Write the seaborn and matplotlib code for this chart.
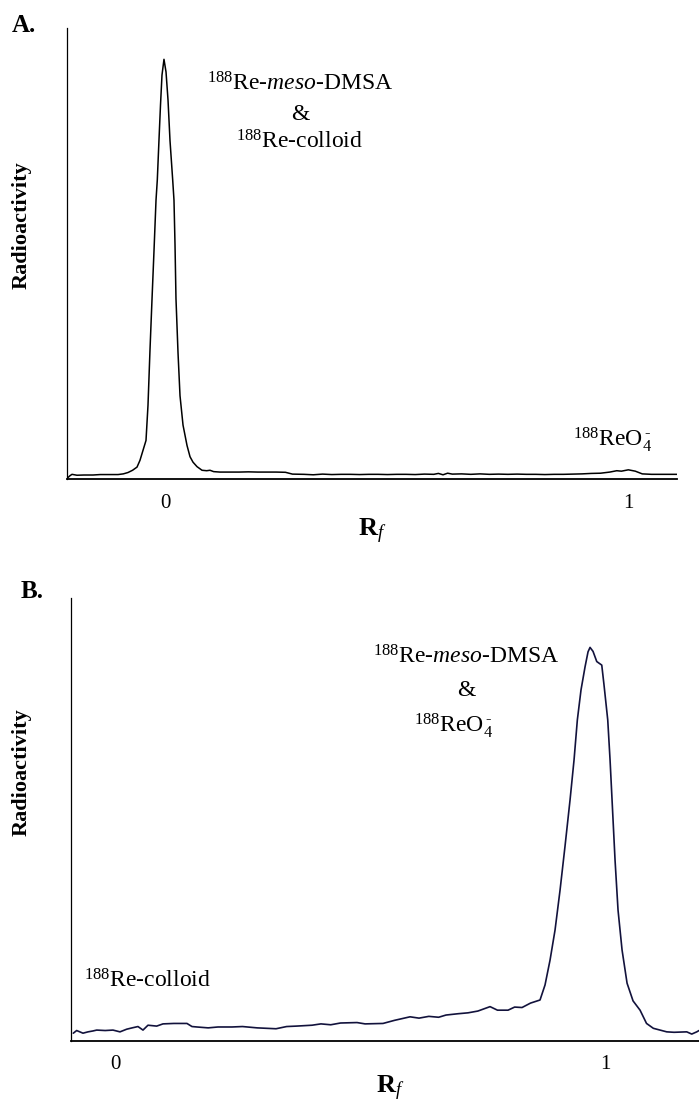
import matplotlib
matplotlib.use("Agg")
import matplotlib.pyplot as plt
import seaborn as sns
import pandas as pd

# ---------------- data ----------------
rf_a = [-0.2115, -0.205, -0.2007, -0.19, -0.175, -0.1554, -0.14, -0.12, -0.1014, -0.09,
        -0.0799, -0.07, -0.0604, -0.054, -0.0475, -0.041, -0.0367, -0.0324, -0.0281, -0.0237,
        -0.0194, -0.0166, -0.0130, -0.0097, -0.0065, -0.0022, 0.0022, 0.0065, 0.0108, 0.0166,
        0.0194, 0.0216, 0.0237, 0.0281, 0.0324, 0.0389, 0.0475, 0.0540, 0.0604, 0.0691,
        0.0799, 0.09, 0.0971, 0.105, 0.1187, 0.13, 0.1403, 0.16, 0.18, 0.20,
        0.22, 0.24, 0.26, 0.275, 0.30, 0.32, 0.34, 0.36, 0.38, 0.40,
        0.42, 0.44, 0.46, 0.48, 0.50, 0.52, 0.54, 0.56, 0.58, 0.59,
        0.60, 0.61, 0.62, 0.64, 0.66, 0.68, 0.70, 0.72, 0.74, 0.76,
        0.78, 0.80, 0.82, 0.84, 0.86, 0.88, 0.90, 0.92, 0.94, 0.96,
        0.975, 0.985, 1.00, 1.015, 1.03, 1.05, 1.07, 1.09, 1.105]
ht_a = [0.2, 0.8, 1.1, 0.9, 0.95, 0.95, 1.05, 1.05, 1.05, 1.2,
        1.5, 2.0, 2.7, 4.2, 6.4, 8.6, 16.4, 28.6, 39.7, 50.7,
        61.8, 66.3, 75.1, 82.9, 89.5, 93.0, 90.2, 84.0, 75.0, 66.3,
        61.8, 52.0, 40.0, 28.0, 18.5, 12.0, 7.5, 5.0, 3.8, 2.8,
        2.0, 1.9, 2.0, 1.7, 1.6, 1.6, 1.6, 1.6, 1.65, 1.6,
        1.6, 1.6, 1.55, 1.15, 1.1, 1.0, 1.15, 1.05, 1.1, 1.1,
        1.05, 1.1, 1.1, 1.05, 1.1, 1.1, 1.05, 1.15, 1.1, 1.3,
        1.0, 1.35, 1.15, 1.2, 1.1, 1.2, 1.1, 1.15, 1.1, 1.15,
        1.1, 1.1, 1.05, 1.1, 1.1, 1.15, 1.2, 1.3, 1.35, 1.6,
        1.9, 1.8, 2.1, 1.8, 1.2, 1.1, 1.1, 1.1, 1.1]

rf_b = [-0.0850, -0.0781, -0.0653, -0.055, -0.045, -0.0373, -0.02, -0.0041, 0.0102, 0.0239,
        0.035, 0.0469, 0.0571, 0.0673, 0.0850, 0.0979, 0.12, 0.1468, 0.1570, 0.1672,
        0.19, 0.21, 0.2386, 0.26, 0.29, 0.3284, 0.35, 0.37, 0.4018, 0.42,
        0.44, 0.46, 0.4936, 0.51, 0.5466, 0.57, 0.6017, 0.62, 0.64, 0.66,
        0.6751, 0.70, 0.7200, 0.74, 0.7649, 0.78, 0.8016, 0.815, 0.8301, 0.8474,
        0.8668, 0.8770, 0.8872, 0.8974, 0.9076, 0.9178, 0.9280, 0.9362, 0.9429, 0.9504,
        0.9586, 0.9647, 0.9688, 0.9749, 0.9825, 0.9927, 0.9973, 1.0049, 1.0096, 1.0137,
        1.0198, 1.0259, 1.0341, 1.0443, 1.0565, 1.0708, 1.0840, 1.0979, 1.1252, 1.14,
        1.1660, 1.1762, 1.1864, 1.1911]
ht_b = [1.7, 2.3, 1.7, 2.0, 2.2, 2.4, 2.3, 2.4, 2.0, 2.6,
        2.9, 3.2, 2.4, 3.5, 3.3, 3.8, 3.9, 3.9, 3.2, 3.1,
        2.9, 3.1, 3.1, 3.2, 2.9, 2.7, 3.2, 3.3, 3.5, 3.8,
        3.6, 4.0, 4.1, 3.8, 3.9, 4.6, 5.4, 5.1, 5.5, 5.3,
        5.8, 6.1, 6.3, 6.7, 7.7, 6.9, 6.9, 7.6, 7.5, 8.5,
        9.2, 12.6, 18.2, 25.0, 34.0, 44.0, 54.4, 63.5, 72.5, 79.3,
        84.5, 87.9, 88.9, 88.0, 85.7, 84.9, 80.4, 72.5, 63.5, 54.4,
        40.8, 29.5, 20.5, 13.0, 9.0, 6.9, 3.9, 2.8, 2.0, 1.9,
        2.0, 1.5, 2.0, 2.3]

tick_vals = [0, 1]
tick_labels = ["0", "1"]

df_a = pd.DataFrame({"Rf": rf_a, "Radioactivity": ht_a})
df_b = pd.DataFrame({"Rf": rf_b, "Radioactivity": ht_b})

# ---------------- style ----------------
sns.set_style("white")
plt.rcParams["font.family"] = ["Liberation Serif", "DejaVu Serif"]
plt.rcParams["text.color"] = "black"
plt.rcParams["xtick.color"] = "black"
plt.rcParams["xtick.labelcolor"] = "black"
plt.rcParams["mathtext.fontset"] = "custom"
plt.rcParams["mathtext.rm"] = "Liberation Serif"
plt.rcParams["mathtext.it"] = "Liberation Serif:italic"
plt.rcParams["mathtext.bf"] = "Liberation Serif:bold"
plt.rcParams["mathtext.default"] = "rm"

W, H = 699, 1106
fig = plt.figure(figsize=(W / 100, H / 100), dpi=100)


def px_ax(left, right, top, bottom):
    return [left / W, 1 - bottom / H, (right - left) / W, (bottom - top) / H]


def fx(x):
    return x / W


def fy(y):
    return 1 - y / H


ax_a = fig.add_axes(px_ax(67, 677, 27.7, 479.3))
ax_b = fig.add_axes(px_ax(71, 699, 598.3, 1040.7))

sns.lineplot(data=df_a, x="Rf", y="Radioactivity", ax=ax_a, color="black",
             linewidth=1.1, sort=False)
sns.lineplot(data=df_b, x="Rf", y="Radioactivity", ax=ax_b, color="#12123c",
             linewidth=1.2, sort=False)

ax_a.set_xlim(-0.2115, 1.105)
ax_b.set_xlim(-0.0897, 1.191)
for ax in (ax_a, ax_b):
    ax.set_ylim(0, 100)
    ax.set_yticks([])
    ax.set_xticks(tick_vals)
    ax.set_xticklabels(tick_labels)
    ax.tick_params(axis="x", direction="inout", length=7, width=0.8,
                   color="black", labelcolor="black", pad=7, labelsize=15)
    ax.set_xlabel("")
    ax.set_ylabel("")
    for s in ("top", "right"):
        ax.spines[s].set_visible(False)
    ax.spines["left"].set_linewidth(0.9)
    ax.spines["bottom"].set_linewidth(1.3)
    ax.spines["left"].set_color("black")
    ax.spines["bottom"].set_color("black")
    ax.patch.set_alpha(0)

ann = 17
# Panel A texts
fig.text(fx(12), fy(26), "A.", fontsize=18, fontweight="bold", va="center", ha="left")
fig.text(fx(22), fy(225), "Radioactivity", fontsize=16, fontweight="bold",
         rotation=90, va="center", ha="center")
fig.text(fx(372), fy(531), r"$\mathbf{R}_{\mathit{f}}$", fontsize=19,
         va="center", ha="center")
fig.text(fx(300), fy(84), r"$^{188}$Re-$\mathit{meso}$-DMSA", fontsize=ann,
         ha="center", va="center")
fig.text(fx(300), fy(114), "&", fontsize=ann, ha="center", va="center")
fig.text(fx(300), fy(142), r"$^{188}$Re-colloid", fontsize=ann,
         ha="center", va="center")
fig.text(fx(613), fy(440), r"$^{188}$ReO$_4^{\,\text{-}}$", fontsize=ann,
         ha="center", va="center")

# Panel B texts
fig.text(fx(21), fy(592), "B.", fontsize=18, fontweight="bold", va="center", ha="left")
fig.text(fx(22), fy(772), "Radioactivity", fontsize=16, fontweight="bold",
         rotation=90, va="center", ha="center")
fig.text(fx(390), fy(1088), r"$\mathbf{R}_{\mathit{f}}$", fontsize=19,
         va="center", ha="center")
fig.text(fx(466), fy(657), r"$^{188}$Re-$\mathit{meso}$-DMSA", fontsize=ann,
         ha="center", va="center")
fig.text(fx(466), fy(691), "&", fontsize=ann, ha="center", va="center")
fig.text(fx(454), fy(726), r"$^{188}$ReO$_4^{\,\text{-}}$", fontsize=ann,
         ha="center", va="center")
fig.text(fx(148), fy(981), r"$^{188}$Re-colloid", fontsize=ann,
         ha="center", va="center")

fig.savefig("out.png", dpi=100)
